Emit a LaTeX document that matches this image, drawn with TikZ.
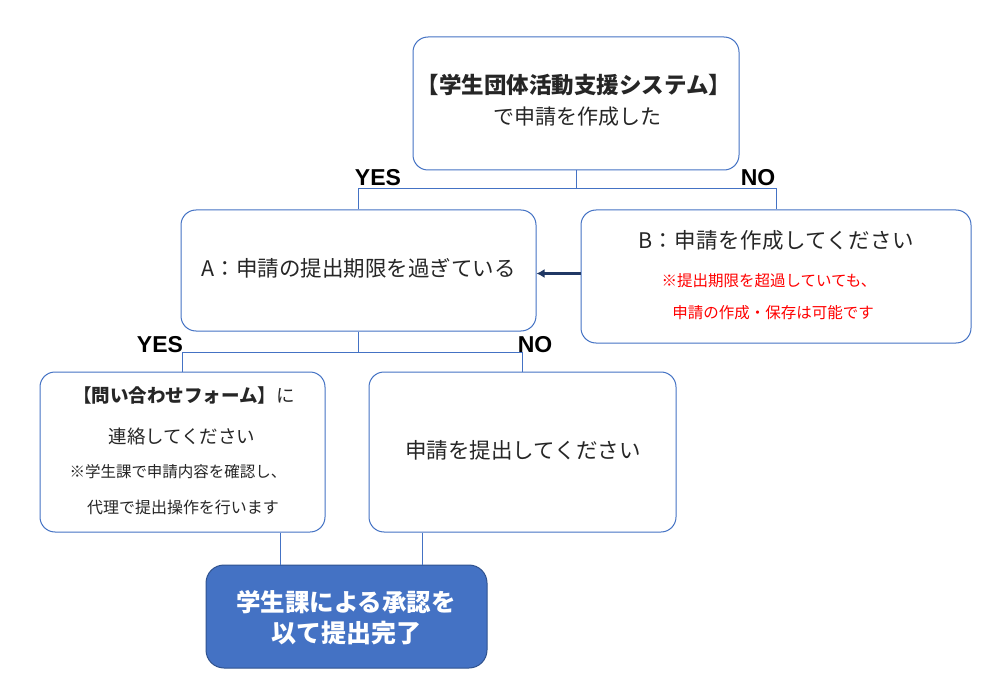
\documentclass[tikz,border=0pt]{standalone}
\usepackage{fontspec}
\setmainfont{Noto Sans CJK JP}
\newfontfamily\lat{Liberation Sans}
\usetikzlibrary{arrows.meta,calc}
\definecolor{bdr}{HTML}{4472C4}
\definecolor{navy}{HTML}{203864}
\definecolor{txt}{HTML}{262626}
\definecolor{fbdr}{HTML}{2F528F}
\definecolor{redt}{HTML}{FF0000}
\newcommand\ls[1]{\addfontfeature{LetterSpace=#1}}
\newcommand\fs[1]{\fontsize{#1}{#1}\selectfont}
\begin{document}
\begin{tikzpicture}[x=1pt,y=-1pt,
  box/.style={draw=bdr, line width=1pt, rounded corners=15pt, inner sep=0pt, fill=white},
  fbox/.style={draw=fbdr, line width=1pt, rounded corners=18pt, inner sep=0pt, fill=bdr},
  conn/.style={draw=bdr, line width=1pt},
  arr/.style={draw=navy, line width=2.2pt, -{Latex[length=8pt,width=9pt]}},
  t/.style={text=txt, inner sep=0pt, anchor=center},
  yn/.style={inner sep=0pt, font=\lat\bfseries\fs{23}, text=black}
]
\useasboundingbox (0,0) rectangle (997,698);
\fill[white] (0,0) rectangle (997,698);

% boxes
\node[box, minimum width=326pt, minimum height=133pt] (top) at (576,103.5) {};
\node[box, minimum width=355pt, minimum height=121pt] (A) at (358.5,270.5) {};
\node[box, minimum width=390pt, minimum height=133pt] (B) at (776,276.5) {};
\node[box, minimum width=285pt, minimum height=160pt] (L) at (182.5,452) {};
\node[box, minimum width=307pt, minimum height=160pt] (R) at (522.5,452) {};
\node[fbox, minimum width=281pt, minimum height=103pt] (F) at (346.5,616.5) {};

% texts
\node[t, font=\fs{22.5}\bfseries] (t1) at (574,85) {【学生団体活動支援システム】};
\node[t, font=\fs{21}] (t2) at (577,117) {で申請を作成した};
\node[t, font=\fs{21.5}] (ta) at (358.5,268) {A：申請の提出期限を過ぎている};
\node[t, font=\fs{21.5}] (tb) at (776,240) {\ls{2}B：申請を作成してください};
\node[t, font=\fs{15.5}, text=redt] (tb2) at (769,281) {※提出期限を超過していても、};
\node[t, font=\fs{15.5}, text=redt] (tb3) at (773,313) {申請の作成・保存は可能です};
\node[t, font=\fs{18.5}] (tl1) at (184,395) {{\bfseries【問い合わせフォーム】}に};
\node[t, font=\fs{18.5}] (tl2) at (182,436) {連絡してください};
\node[t, font=\fs{15.5}] (tl3) at (178,472) {※学生課で申請内容を確認し、};
\node[t, font=\fs{16}] (tl4) at (183,507) {代理で提出操作を行います};
\node[t, font=\fs{21.5}] (tr) at (523,450) {申請を提出してください};
\node[t, font=\fs{24.5}\bfseries, text=white] (tf1) at (346,602) {学生課による承認を};
\node[t, font=\fs{25}\bfseries, text=white] (tf2) at (346,633) {以て提出完了};

% connectors level 1
\coordinate (j1) at ($(top.south)+(0,18)$);
\draw[conn] (top.south) -- (j1);
\draw[conn] (A.north) |- (j1) -| (B.north);
\node[yn] (yes1) at (378,178) {YES};
\node[yn] (no1) at (758,178) {NO};

% arrow B -> A
\draw[arr] ([yshift=3pt]B.west) -- ([yshift=3pt]B.west -| A.east);

% connectors level 2
\coordinate (j2) at ($(A.south)+(0,21)$);
\draw[conn] (A.south) -- (j2);
\draw[conn] (L.north) |- (j2) -| (R.north);
\node[yn] (yes2) at (160,345) {YES};
\node[yn] (no2) at (535,345) {NO};

% connectors to final
\coordinate (f1) at ([xshift=75pt]F.north west);
\coordinate (f2) at ([xshift=-65pt]F.north east);
\draw[conn] (f1 |- L.south) -- (f1);
\draw[conn] (f2 |- R.south) -- (f2);
\end{tikzpicture}
\end{document}
